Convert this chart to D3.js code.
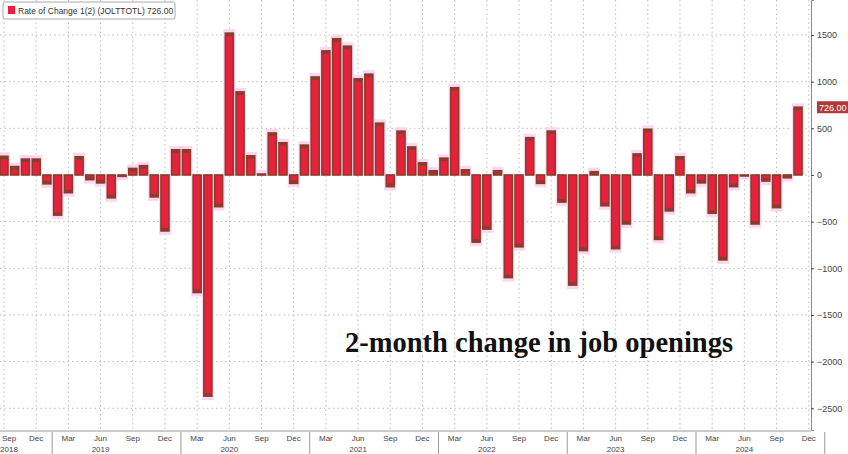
<!DOCTYPE html>
<html><head><meta charset="utf-8">
<script src="https://cdn.jsdelivr.net/npm/d3@7"></script>
<style>body{margin:0;background:#fff}svg{display:block}</style></head>
<body><svg id="c" width="848" height="454"></svg>
<script>
const startMonth = {year:2018, month:8}; // Sep 2018 (0-based month)
const values = [200,90,170,170,-95,-430,-190,195,-50,-85,-245,-15,70,100,-235,-600,270,270,-1260,-2370,-340,1520,890,205,10,450,
345,-90,320,1050,1330,1460,1380,1030,1080,555,-125,470,300,130,45,180,935,55,-720,-580,45,-1100,-770,400,-90,470,
-290,-1180,-810,35,-330,-790,-525,225,490,-690,-385,195,-190,-85,-410,-910,-125,-5,-525,-65,-350,-30,726];
const yTicks = [1500,1000,500,0,-500,-1000,-1500,-2000,-2500];
const monthNames = ["Jan","Feb","Mar","Apr","May","Jun","Jul","Aug","Sep","Oct","Nov","Dec"];
const lastLabel = "726.00";
const legendText = "Rate of Change 1(2) (JOLTTOTL) 726.00";
const titleText = "2-month change in job openings";

const svg = d3.select("#c");
const x = d3.scaleLinear().domain([0,75]).range([4, 4+75*10.73]);
const y = d3.scaleLinear().domain([-2733,1875]).range([430,0]);
const bw = 8;
const tickIdx = d3.range(0,76,3);
const g = svg.append("g");
g.selectAll(".hg").data(yTicks).join("line").attr("x1",0).attr("x2",810)
 .attr("y1",d=>y(d)).attr("y2",d=>y(d)).attr("stroke","#bbb").attr("stroke-dasharray","1.5,3");
g.selectAll(".vg").data(tickIdx).join("line").attr("x1",d=>x(d)).attr("x2",d=>x(d))
 .attr("y1",0).attr("y2",430).attr("stroke","#bbb").attr("stroke-dasharray","1.5,3");
g.selectAll(".glow").data(values).join("rect")
 .attr("x",(d,i)=>x(i)-bw/2-2).attr("width",bw+4)
 .attr("y",d=>Math.min(y(d),y(0))-(d>0?4:0)).attr("height",d=>Math.abs(y(d)-y(0))+4)
 .attr("fill","#ffd6f0");
g.selectAll(".bar").data(values).join("rect")
 .attr("x",(d,i)=>x(i)-bw/2).attr("width",bw)
 .attr("y",d=>Math.min(y(d),y(0))).attr("height",d=>Math.max(1,Math.abs(y(d)-y(0))))
 .attr("fill","#e8203c").attr("stroke","#8a3d2c").attr("stroke-width",1.6);
const capH = d=>Math.min(3,Math.abs(y(d)-y(0)));
g.selectAll(".cap").data(values).join("rect")
 .attr("x",(d,i)=>x(i)-bw/2).attr("width",bw)
 .attr("y",d=>d>0?y(d):y(d)-capH(d)).attr("height",capH).attr("fill","#8a3d2c");
const ax = d3.axisRight(y).tickValues(yTicks).tickSize(3).tickFormat(d3.format("d"));
const ag = svg.append("g").attr("transform","translate(811,0)").call(ax);
ag.select(".domain").attr("stroke","#888");
ag.selectAll("text").attr("font-family","Liberation Sans, Arial").attr("font-size",9).attr("fill","#444");
ag.selectAll(".tick line").attr("stroke","#444");
const xl = svg.append("g");
const lab=(xx,yy,t)=>xl.append("text").attr("x",Math.max(xx,9)).attr("y",yy).attr("text-anchor","middle")
   .attr("font-family","Liberation Sans, Arial").attr("font-size",8).attr("fill","#444").text(t);
tickIdx.forEach(i=>{
  const m=(startMonth.month+i)%12, yr=startMonth.year+Math.floor((startMonth.month+i)/12);
  lab(x(i),441,monthNames[m]);
  if(m===11){ xl.append("line").attr("x1",x(i)+16).attr("x2",x(i)+16).attr("y1",432).attr("y2",454).attr("stroke","#999");}
  if(m===5) lab(x(i),452,yr);
});
lab(x(0),452,2018);
svg.append("line").attr("x1",0).attr("x2",811).attr("y1",431).attr("y2",431).attr("stroke","#999");
const ly=y(values[values.length-1]);
svg.append("rect").attr("x",817).attr("y",ly-6).attr("width",31).attr("height",12).attr("fill","#b03a3a");
svg.append("text").attr("x",819).attr("y",ly+3.5).attr("font-family","Liberation Sans, Arial").attr("font-size",9).attr("fill","#fff").text(lastLabel);
svg.append("rect").attr("x",3).attr("y",2).attr("width",172).attr("height",17).attr("fill","#fff").attr("stroke","#aaa").attr("rx",2);
svg.append("rect").attr("x",8).attr("y",6).attr("width",7).attr("height",8).attr("fill","#e8203c");
svg.append("text").attr("x",18).attr("y",14).attr("font-family","Liberation Sans, Arial").attr("font-size",8.5).attr("fill","#333").text(legendText);
svg.append("text").attr("x",345).attr("y",352).attr("font-family","Liberation Serif, Times New Roman, serif")
 .attr("font-size",28.5).attr("font-weight","bold").attr("fill","#111").text(titleText);
</script></body></html>
